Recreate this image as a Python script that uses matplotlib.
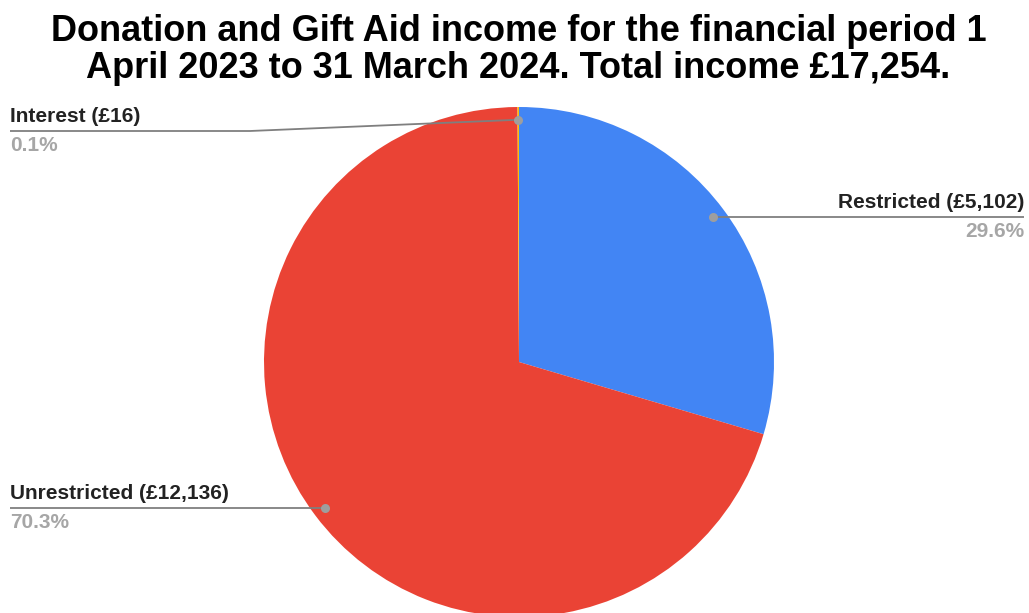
import numpy as np
import matplotlib
matplotlib.use('Agg')
import matplotlib.pyplot as plt

plt.rcParams['font.family'] = ['Liberation Sans', 'DejaVu Sans']

# income split for the year
labels = ['Restricted', 'Unrestricted', 'Interest']
amounts = [5102, 12136, 16]
colors = ['#4285F4', '#EA4335', '#FBBC04']
title = ('Donation and Gift Aid income for the financial period 1\n'
         'April 2023 to 31 March 2024. Total income £17,254.')

W, H = 1029, 613
fig = plt.figure(figsize=(W / 100, H / 100), dpi=100)
ax = fig.add_axes([0, 0, 1, 1])

cx, cy, r = 519, H - 362, 255
wedges, _ = ax.pie(amounts, colors=colors, startangle=90, counterclock=False,
                   center=(cx, cy), radius=r, frame=True,
                   wedgeprops=dict(linewidth=0))
ax.set_xlim(0, W)
ax.set_ylim(0, H)
ax.set_aspect('equal')
ax.axis('off')

total = sum(amounts)
line_col = '#7f7f7f'
dot_col = '#9e9e9e'

# leader line layout per label: (elbow x, line y, end x, align)
label_pos = {
    'Restricted': (None, None, 1024, 'right'),
    'Unrestricted': (None, None, 10, 'left'),
    'Interest': (250, H - 131, 10, 'left'),
}

for w, name, amt in zip(wedges, labels, amounts):
    mid = np.deg2rad((w.theta1 + w.theta2) / 2)
    px = cx + 0.95 * r * np.cos(mid)
    py = cy + 0.95 * r * np.sin(mid)
    elbow, ly, ex, ha = label_pos[name]
    if elbow is None:
        ly = py
        xs, ys = [px, ex], [py, py]
    else:
        xs, ys = [px, elbow, ex], [py, ly, ly]
    ax.plot(xs, ys, color=line_col, lw=1.3, zorder=3, solid_capstyle='butt')
    ax.plot(px, py, 'o', color=dot_col, ms=6.5, mec='none', zorder=4)
    ax.text(ex, ly + 5, f'{name} (£{amt:,})', ha=ha, va='bottom',
            fontsize=15, fontweight='bold', color='#222222')
    ax.text(ex, ly - 5, f'{amt / total * 100:.1f}%', ha=ha, va='top',
            fontsize=15, fontweight='bold', color='#a6a6a6')

fig.text(0.504, 1 - 50 / H, title, ha='center', va='center', fontsize=26,
         fontweight='bold', color='black', linespacing=1.05)

fig.savefig('out.png', dpi=100)
